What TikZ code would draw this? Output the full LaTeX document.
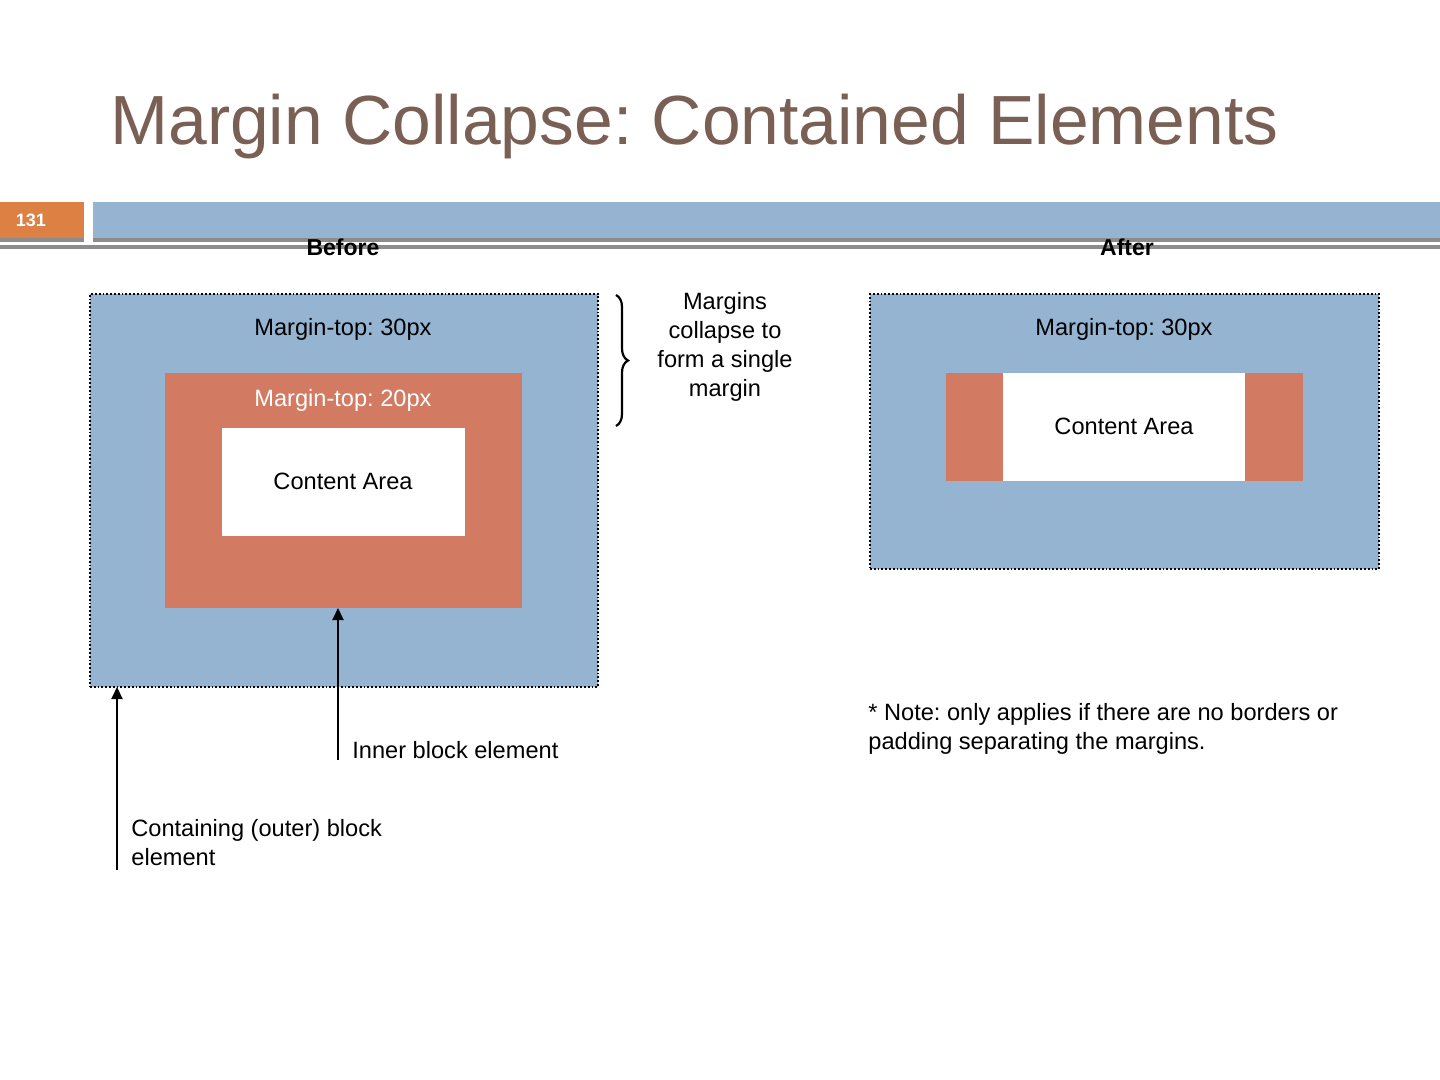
\documentclass[tikz,border=0pt]{standalone}
\usepackage{fontspec}
\setmainfont{Liberation Sans}
\usetikzlibrary{arrows.meta,decorations.pathreplacing}
\definecolor{boxblue}{RGB}{148,180,210}
\definecolor{boxorange}{RGB}{210,122,98}
\definecolor{pgorange}{RGB}{221,128,68}
\definecolor{titlebrown}{RGB}{122,96,84}
\definecolor{linegrey}{RGB}{140,140,140}
\frenchspacing
\begin{document}
\begin{tikzpicture}[x=0.5pt,y=-0.5pt,
  bodytext/.style={font=\fontsize{11.8}{14.4}\selectfont, inner sep=0pt},
  rectbox/.style={inner sep=0pt, outer sep=0pt},
  outerbox/.style={rectbox, fill=boxblue, draw=black, densely dotted, line width=0.9pt},
  innerbox/.style={rectbox, fill=boxorange},
  contentbox/.style={rectbox, fill=white},
  arr/.style={line width=1pt, -{Triangle[width=5.5pt,length=6pt]}},
  bracestyle/.style={line width=1.1pt, decorate, decoration={brace, amplitude=6pt}}
]
\useasboundingbox (0,0) rectangle (1440,1080);
\fill[white] (0,0) rectangle (1440,1080);

% header
\node[rectbox, fill=pgorange, minimum width=42pt, minimum height=18.5pt, anchor=north west] (pg) at (0,202) {};
\node[font=\fontsize{9}{11}\selectfont\bfseries, text=white, inner sep=0pt] (pgnum) at (31,220) {131};
\node[rectbox, fill=boxblue, minimum width=673.5pt, minimum height=18pt, anchor=north west] (bar) at (93,202) {};
\fill[linegrey] (0,238.5) rectangle (84,242.5);
\fill[linegrey] (93,238) rectangle (1440,242.5);
\fill[linegrey] (0,245) rectangle (1440,249);

% title
\node[font=\fontsize{34.8}{40}\selectfont, text=titlebrown, inner sep=0pt, anchor=base west] (title) at (110,145) {Margin Collapse: Contained Elements};

% column headings
\node[bodytext, font=\fontsize{11.5}{14}\selectfont\bfseries] (before) at (343,247) {Before};
\node[bodytext, font=\fontsize{11.5}{14}\selectfont\bfseries] (after) at (1127,247) {After};

% before diagram
\node[outerbox, minimum width=254pt, minimum height=196.5pt] (outL) at (344,490.5) {};
\node[innerbox, minimum width=178.5pt, minimum height=117.5pt] (inL) at (343.5,490.5) {};
\node[contentbox, minimum width=121.5pt, minimum height=54pt] (cL) at (343.5,482) {};
\node[bodytext] (mt30L) at (343,329) {Margin-top: 30px};
\node[bodytext, text=white] (mt20L) at (343,400) {Margin-top: 20px};
\node[bodytext] (caL) at (343,481) {Content Area};

% brace and its text
\coordinate (bt) at (616,295);
\coordinate (bb) at (616,426);
\draw[bracestyle] (bt) -- (bb);
\node[bodytext, align=center] (collapse) at (725,347) {Margins\\collapse to\\form a single\\margin};

% after diagram
\node[outerbox, minimum width=254.5pt, minimum height=137.5pt] (outR) at (1124.5,431.5) {};
\node[innerbox, minimum width=178.5pt, minimum height=54pt] (inR) at (1124.5,427) {};
\node[contentbox, minimum width=121pt, minimum height=54pt] (cR) at (1124,427) {};
\node[bodytext] (mt30R) at (1124,329) {Margin-top: 30px};
\node[bodytext] (caR) at (1124,426) {Content Area};

% note
\node[bodytext, align=left, anchor=west] (note) at (868,729) {* Note: only applies if there are no borders or\\padding separating the margins.};

% arrows and labels
\coordinate (a1) at (338,760);
\draw[arr] (a1) -- (a1 |- inL.south);
\node[bodytext, anchor=west] (innerlab) at (352,750) {Inner block element};
\coordinate (a2) at (117,870);
\draw[arr] (a2) -- (a2 |- outL.south);
\node[bodytext, align=left, anchor=west] (outerlab) at (131,842.5) {Containing (outer) block\\element};
\end{tikzpicture}
\end{document}
